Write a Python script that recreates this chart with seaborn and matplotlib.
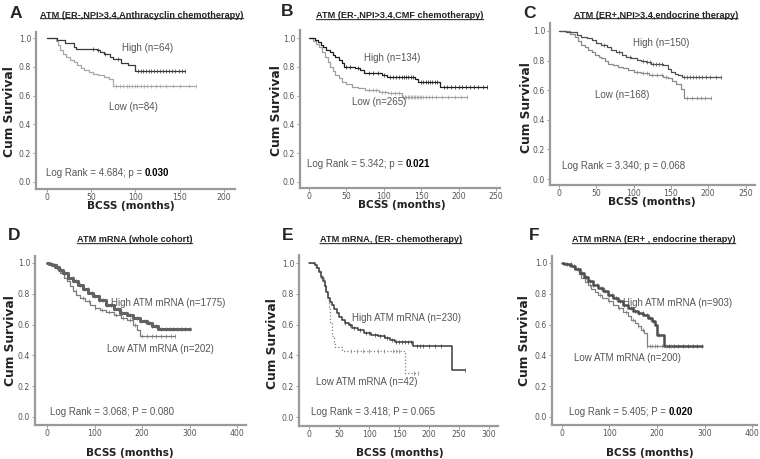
import numpy as np
import matplotlib
matplotlib.use('Agg')
import matplotlib.pyplot as plt
import seaborn as sns

sns.set_style('white')
plt.rcParams['font.family'] = ['Liberation Sans', 'DejaVu Sans']

# --- curve data (time in months, cum survival) ---
a_high_t = [0, 11, 20, 30, 33, 56, 60, 64, 71, 75, 84, 92, 99]
a_high_s = [1.0, 0.984, 0.968, 0.94, 0.926, 0.915, 0.90, 0.89, 0.87, 0.855, 0.83, 0.815, 0.771]
a_high_end = 156
a_high_cens = [52, 58, 66, 80, 103, 106, 109, 112, 115, 118, 121, 124, 128, 131, 134, 138, 141, 145, 149, 152, 156]
a_low_t = [0, 10, 13, 15, 18, 22, 26, 30, 34, 38, 42, 47, 52, 58, 64, 70, 75]
a_low_s = [1.0, 0.98, 0.95, 0.917, 0.89, 0.87, 0.85, 0.835, 0.81, 0.795, 0.78, 0.764, 0.75, 0.74, 0.73, 0.718, 0.665]
a_low_end = 168
a_low_cens = [78, 82, 86, 90, 93, 96, 99, 102, 106, 110, 113, 118, 123, 128, 135, 142, 150, 160, 168]

b_high_t = [0, 8, 12, 16, 19, 23, 28, 32, 35, 40, 44, 47, 62, 68, 73, 97, 104, 142, 146, 175]
b_high_s = [1.0, 0.985, 0.974, 0.955, 0.94, 0.92, 0.905, 0.885, 0.87, 0.845, 0.824, 0.80, 0.79, 0.775, 0.757, 0.745, 0.728, 0.715, 0.697, 0.662]
b_high_end = 238
b_high_cens = [50, 55, 65, 80, 86, 92, 100, 108, 112, 116, 120, 124, 127, 130, 133, 136, 139, 150, 153, 156,
               159, 162, 165, 168, 171, 180, 185, 190, 195, 200, 205, 210, 215, 220, 226, 232, 238]
b_low_t = [0, 6, 10, 14, 18, 21, 25, 28, 32, 35, 40, 44, 50, 57, 65, 75, 93, 106, 124]
b_low_s = [1.0, 0.98, 0.96, 0.94, 0.9, 0.87, 0.835, 0.80, 0.77, 0.743, 0.72, 0.697, 0.68, 0.662, 0.65, 0.639, 0.627, 0.615, 0.59]
b_low_end = 211
b_low_cens = [80, 85, 90, 98, 102, 110, 115, 120, 126, 128, 130, 132, 134, 136, 138, 140, 142, 144, 146, 148,
              150, 153, 156, 160, 165, 170, 178, 186, 195, 203, 211]

c_high_t = [0, 10, 17, 24, 30, 37, 44, 50, 57, 64, 70, 77, 84, 90, 97, 104, 110, 117, 124, 140, 146, 150, 155, 160, 165]
c_high_s = [1.0, 0.995, 0.99, 0.975, 0.962, 0.95, 0.939, 0.92, 0.905, 0.89, 0.872, 0.855, 0.838, 0.825, 0.815,
            0.805, 0.797, 0.79, 0.78, 0.77, 0.745, 0.725, 0.71, 0.70, 0.687]
c_high_end = 217
c_high_cens = [60, 80, 95, 112, 118, 122, 126, 130, 134, 138, 168, 172, 176, 180, 184, 188, 192, 197, 202, 210, 217]
c_low_t = [0, 15, 21, 26, 30, 35, 39, 44, 48, 53, 57, 62, 66, 72, 79, 86, 93, 100, 110, 120, 128, 140, 146, 152, 157, 164, 168]
c_low_s = [1.0, 0.98, 0.962, 0.935, 0.905, 0.89, 0.872, 0.855, 0.838, 0.825, 0.815, 0.80, 0.78, 0.77, 0.76, 0.748,
           0.736, 0.725, 0.714, 0.705, 0.70, 0.69, 0.68, 0.665, 0.645, 0.61, 0.545]
c_low_end = 204
c_low_cens = [105, 112, 118, 125, 132, 138, 143, 172, 178, 185, 190, 196, 204]

d_high_t = [0, 5, 10, 17, 25, 34, 45, 55, 65, 76, 87, 97, 110, 125, 140, 154, 168, 182, 196, 210, 222, 234]
d_high_s = [1.0, 0.995, 0.985, 0.975, 0.955, 0.935, 0.905, 0.88, 0.855, 0.83, 0.805, 0.785, 0.76, 0.73, 0.70,
            0.675, 0.66, 0.643, 0.625, 0.61, 0.59, 0.572]
d_high_end = 301
d_high_cens = [8, 15, 22, 30, 38, 46, 54, 62, 70, 78, 86, 94, 102, 110, 118, 126, 134, 142, 150, 158, 166, 174,
               182, 190, 198, 206, 214, 222, 230, 240, 250, 258, 266, 274, 282, 290, 301]
d_low_t = [0, 10, 20, 27, 35, 42, 48, 55, 62, 70, 80, 90, 100, 112, 125, 140, 155, 168, 182, 190, 196]
d_low_s = [1.0, 0.99, 0.96, 0.935, 0.90, 0.88, 0.85, 0.816, 0.795, 0.773, 0.75, 0.73, 0.71, 0.697, 0.68, 0.664,
           0.645, 0.632, 0.60, 0.567, 0.526]
d_low_end = 269
d_low_cens = [60, 75, 88, 100, 115, 130, 145, 160, 175, 185, 200, 210, 220, 230, 240, 250, 260, 269]

e_high_t = [0, 10, 14, 17, 20, 23, 26, 29, 32, 35, 38, 42, 46, 50, 55, 60, 66, 72, 82, 92, 104, 115, 127, 135, 143, 174, 238]
e_high_s = [1.0, 0.985, 0.967, 0.94, 0.91, 0.88, 0.85, 0.81, 0.775, 0.75, 0.73, 0.70, 0.675, 0.65, 0.632, 0.61,
            0.595, 0.578, 0.565, 0.545, 0.535, 0.524, 0.51, 0.50, 0.49, 0.459, 0.305]
e_high_end = 260
e_high_cens = [60, 68, 75, 85, 95, 100, 110, 118, 125, 130, 138, 145, 150, 155, 160, 165, 170, 180, 185, 190,
               200, 210, 220, 260]
e_low_t = [0, 10, 15, 20, 25, 29, 31, 33, 35, 38, 41, 44, 55, 160]
e_low_s = [1.0, 0.976, 0.952, 0.905, 0.857, 0.81, 0.762, 0.714, 0.619, 0.524, 0.476, 0.452, 0.429, 0.286]
e_low_end = 182
e_low_cens = [70, 80, 90, 100, 115, 125, 140, 145, 150, 175, 182]

f_high_t = [0, 5, 12, 20, 28, 37, 46, 55, 65, 76, 87, 97, 108, 118, 129, 139, 150, 160, 171, 181, 190, 196, 200, 215]
f_high_s = [1.0, 0.995, 0.99, 0.978, 0.96, 0.935, 0.91, 0.88, 0.86, 0.838, 0.815, 0.794, 0.772, 0.751, 0.73,
            0.708, 0.69, 0.675, 0.66, 0.643, 0.62, 0.60, 0.532, 0.46]
f_high_end = 294
f_high_cens = [10, 18, 26, 34, 42, 50, 58, 66, 74, 82, 90, 98, 106, 114, 122, 130, 138, 146, 154, 162, 170, 178,
               186, 192, 205, 225, 235, 245, 255, 265, 275, 285, 294]
f_low_t = [0, 8, 15, 25, 35, 41, 48, 55, 62, 70, 76, 85, 97, 107, 118, 128, 139, 146, 153, 160, 167, 172, 178]
f_low_s = [1.0, 0.99, 0.98, 0.96, 0.93, 0.90, 0.875, 0.86, 0.83, 0.81, 0.794, 0.775, 0.751, 0.73, 0.708, 0.68,
           0.654, 0.632, 0.61, 0.59, 0.567, 0.545, 0.46]
f_low_end = 230
f_low_cens = [60, 80, 100, 120, 135, 150, 160, 170, 180, 185, 190, 195, 200, 210, 220, 230]

letters = ['A', 'B', 'C', 'D', 'E', 'F']
titles = ['ATM (ER-,NPI>3.4,Anthracyclin chemotherapy)', 'ATM (ER-,NPI>3.4,CMF chemotherapy)',
          'ATM (ER+,NPI>3.4,endocrine therapy)', 'ATM mRNA (whole cohort)',
          'ATM mRNA, (ER- chemotherapy)', 'ATM mRNA (ER+ , endocrine therapy)']
high_labels = ['High (n=64)', 'High (n=134)', 'High (n=150)', 'High ATM mRNA (n=1775)',
               'High ATM mRNA (n=230)', 'High ATM mRNA (n=903)']
low_labels = ['Low (n=84)', 'Low (n=265)', 'Low (n=168)', 'Low ATM mRNA (n=202)',
              'Low ATM mRNA (n=42)', 'Low ATM mRNA (n=200)']
stat_text = ['Log Rank = 4.684; p = ', 'Log Rank = 5.342; p = ', 'Log Rank = 3.340; p = 0.068',
             'Log Rank = 3.068; P = 0.080', 'Log Rank = 3.418; P = 0.065', 'Log Rank = 5.405; P = ']
stat_bold = ['0.030', '0.021', '', '', '', '0.020']
x_ticks = [[0, 50, 100, 150, 200], [0, 50, 100, 150, 200, 250], [0, 50, 100, 150, 200, 250],
           [0, 100, 200, 300, 400], [0, 50, 100, 150, 200, 250, 300], [0, 100, 200, 300, 400]]
y_ticks = [0.0, 0.2, 0.4, 0.6, 0.8, 1.0]

curves = [
    (a_high_t, a_high_s, a_high_end, a_high_cens, a_low_t, a_low_s, a_low_end, a_low_cens),
    (b_high_t, b_high_s, b_high_end, b_high_cens, b_low_t, b_low_s, b_low_end, b_low_cens),
    (c_high_t, c_high_s, c_high_end, c_high_cens, c_low_t, c_low_s, c_low_end, c_low_cens),
    (d_high_t, d_high_s, d_high_end, d_high_cens, d_low_t, d_low_s, d_low_end, d_low_cens),
    (e_high_t, e_high_s, e_high_end, e_high_cens, e_low_t, e_low_s, e_low_end, e_low_cens),
    (f_high_t, f_high_s, f_high_end, f_high_cens, f_low_t, f_low_s, f_low_end, f_low_cens),
]

# --- layout (pixels) ---
W, H = 760, 459
rects = [(36, 32, 235, 189), (300, 30, 500, 188), (550, 23, 755, 185),
         (35, 256, 246, 425), (299, 255, 498, 426), (552, 256, 757, 425)]
xlims = [(-12.4, 212.4), (-12, 255.3), (-12, 262.7), (-25.3, 418.9), (-16.7, 315), (-21, 410.5)]
ylims = [(-0.049, 1.042), (-0.042, 1.056), (-0.04, 1.054), (-0.052, 1.045), (-0.058, 1.052), (-0.052, 1.045)]
letter_pos = [(16, 14), (287, 12), (529, 13), (14, 236), (288, 236), (534, 236)]
title_pos = [(142, 15), (400, 16), (656, 15), (135, 240), (391, 240), (654, 240)]
ylab_pos = [(10, 112), (276, 111), (527, 108), (11, 341), (273, 344), (524, 341)]
xlab_pos = [(131, 206), (402, 205), (652, 202), (130, 453), (400, 453), (650, 453)]
high_pos = [(85, 0.93), (73, 0.86), (99, 0.92), (135, 0.74), (72, 0.64), (128, 0.74)]
low_pos = [(70, 0.52), (57, 0.555), (48, 0.57), (126, 0.44), (12, 0.23), (25, 0.38)]
stat_pos = [(-1, 0.06), (-3, 0.125), (4, 0.09), (6, 0.03), (3, 0.03), (15, 0.03)]
styles = [
    dict(hc='#3a3a3a', hw=0.9, lc='#a8a8a8', lw=0.9, ls='-'),
    dict(hc='#1e1e1e', hw=0.9, lc='#a0a0a0', lw=0.9, ls='-'),
    dict(hc='#505050', hw=0.9, lc='#8a8a8a', lw=0.9, ls='-'),
    dict(hc='#626262', hw=2.2, lc='#7a7a7a', lw=0.9, ls='-'),
    dict(hc='#3c3c3c', hw=1.1, lc='#808080', lw=0.9, ls=':'),
    dict(hc='#4e4e4e', hw=1.8, lc='#808080', lw=0.9, ls='-'),
]

fig = plt.figure(figsize=(W / 100, H / 100), dpi=100)


def km(ax, t, s, end, cens, color, lw, ls='-'):
    tt = list(t) + [end]
    ss = list(s) + [s[-1]]
    sns.lineplot(x=tt, y=ss, drawstyle='steps-post', estimator=None, sort=False,
                 color=color, linewidth=lw, linestyle=ls, ax=ax)
    c = np.asarray(cens, float)
    idx = np.searchsorted(t, c, side='right') - 1
    sns.scatterplot(x=c, y=np.asarray(s)[idx], marker='|', s=5, color=color,
                    linewidth=0.5, ax=ax, zorder=3)


for i in range(6):
    l, t, r, b = rects[i]
    ax = fig.add_axes([l / W, 1 - b / H, (r - l) / W, (b - t) / H])
    ht, hs, he, hc, lt, ls_, le, lc = curves[i]
    st = styles[i]
    km(ax, lt, ls_, le, lc, st['lc'], st['lw'], st['ls'])
    km(ax, ht, hs, he, hc, st['hc'], st['hw'])

    ax.set_xlim(*xlims[i])
    ax.set_ylim(*ylims[i])
    ax.set_xticks(x_ticks[i])
    ax.set_yticks(y_ticks)
    ax.set_yticklabels([f'{v:.1f}' for v in y_ticks])
    ax.set_xlabel('')
    ax.set_ylabel('')
    sns.despine(ax=ax)
    for sp in ['left', 'bottom']:
        ax.spines[sp].set_color('#9a9a9a')
        ax.spines[sp].set_linewidth(1.6)
    ax.tick_params(axis='both', length=2, width=0.7, color='#9a9a9a', labelsize=5.6,
                   labelcolor='#555555', bottom=True, left=True)
    ax.tick_params(axis='y', pad=1.5)
    ax.tick_params(axis='x', pad=1.0)
    for lab in ax.get_xticklabels() + ax.get_yticklabels():
        lab.set_family('DejaVu Sans')

    ax.text(*high_pos[i], high_labels[i], fontsize=7, color='#555555', va='center', ha='left')
    ax.text(*low_pos[i], low_labels[i], fontsize=7, color='#555555', va='center', ha='left')
    t1 = ax.text(*stat_pos[i], stat_text[i], fontsize=7, color='#555555', va='center', ha='left')
    if stat_bold[i]:
        ax.annotate(stat_bold[i], xy=(1, 0), xycoords=t1, va='bottom', ha='left',
                    fontsize=7, fontweight='bold', color='black')

    fig.text(letter_pos[i][0] / W, 1 - letter_pos[i][1] / H, letters[i], fontsize=12.5,
             fontweight='bold', ha='center', va='center')
    tt = fig.text(title_pos[i][0] / W, 1 - title_pos[i][1] / H, titles[i], fontsize=6.6,
                  fontweight='bold', color='#222222', ha='center', va='center')
    ax.annotate('', xy=(0, 0.1), xycoords=tt, xytext=(1, 0.1), textcoords=tt,
                arrowprops=dict(arrowstyle='-', lw=0.8, color='#333333', shrinkA=0, shrinkB=0))
    fig.text(ylab_pos[i][0] / W, 1 - ylab_pos[i][1] / H, 'Cum Survival', rotation=90,
             fontsize=8.8, fontweight='bold', family='DejaVu Sans', color='#222222',
             ha='center', va='center')
    fig.text(xlab_pos[i][0] / W, 1 - xlab_pos[i][1] / H, 'BCSS (months)',
             fontsize=7.6, fontweight='bold', family='DejaVu Sans', color='#222222',
             ha='center', va='center')

fig.savefig('out.png', dpi=100)
